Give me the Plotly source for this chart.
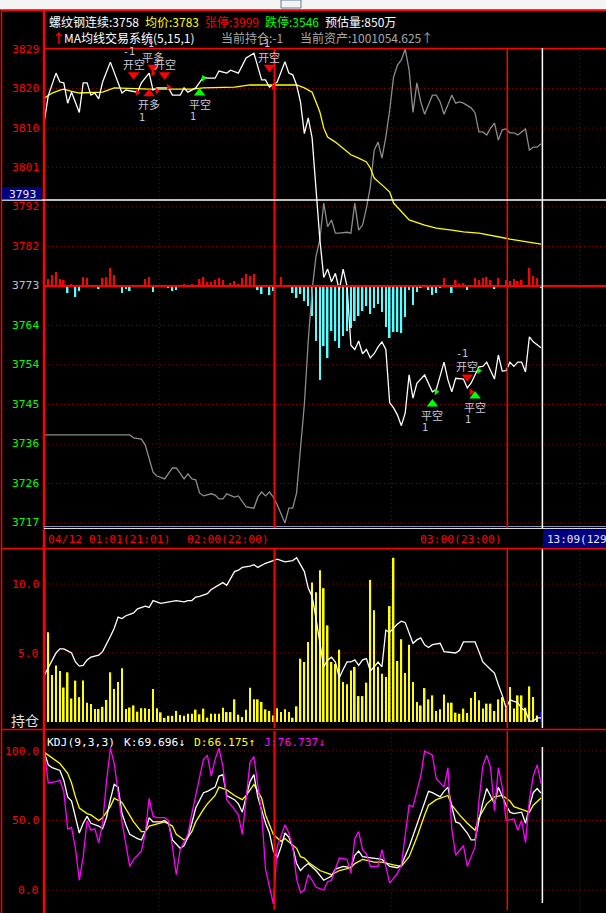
import plotly.graph_objects as go

W, H = 606, 913

# ---------------- data ----------------
prev_close = 3773
price_labels = ['3829', '3820', '3810', '3801', '3792', '3782', '3773',
                '3764', '3754', '3745', '3736', '3726', '3717']
price_step = 56 / 6
time_labels = ['04/12 01:01(21:01)', '02:00(22:00)', '03:00(23:00)']
time_label_idx = [0, 59, 119]
cursor_idx = 128.35
cursor_price = 3793.3
grid_idx = [29.6, 89.4, 137.9]

price_pts = [(0, 3812), (1, 3818), (3, 3823.3), (4, 3821.2), (5, 3821), (6, 3816.2), (7, 3818.8),
             (9, 3814), (10, 3821), (11, 3821), (12, 3818.1), (13, 3818.6), (14, 3817.2), (15, 3821.2),
             (17, 3825.9), (20, 3818.6), (21, 3819.3), (24, 3818.8), (25, 3821), (27, 3823.3), (28, 3819.3),
             (29, 3819.8), (32, 3819.8), (33, 3818.1), (35, 3818.1), (36, 3819.8), (37, 3818.8), (39, 3819.8),
             (41, 3822.4), (42, 3822.1), (44, 3822.1), (45, 3823.8), (47, 3823.3), (48, 3824), (50, 3823.3),
             (52, 3826.9), (54, 3828), (55, 3824.7), (56, 3821.7), (57, 3821.7), (58, 3820), (60, 3821.2),
             (62, 3826), (63, 3823.3), (64, 3822.9), (65, 3820.5), (66, 3816.5), (67, 3809), (68, 3812.7),
             (69, 3808), (70, 3796.4), (71, 3784), (72, 3775), (73, 3777), (74, 3774), (75, 3776), (76, 3772),
             (77, 3777), (78, 3773), (79, 3759), (80, 3758), (81, 3760), (82, 3757), (83, 3758), (84, 3756),
             (85, 3757), (86, 3758.6), (87, 3759.8), (88, 3758), (89, 3745.4), (90, 3744.2), (91, 3742.5),
             (92, 3740), (93, 3743), (94, 3752), (95, 3746.5), (96, 3750), (98, 3752), (100, 3748),
             (101, 3748.5), (103, 3755), (104, 3750.8), (105, 3748), (106, 3751.2), (108, 3751), (109, 3748.9),
             (110, 3750.1), (112, 3753.9), (113, 3754), (114, 3755), (116, 3751), (117, 3756.7), (118, 3752.9),
             (119, 3753), (120, 3755), (121, 3754), (122, 3755), (123, 3755), (124, 3752.7), (125, 3761),
             (126, 3759.8), (127, 3759.1), (128, 3758.4)]

overlay_pts = [(0, 3737.8), (22, 3737.8), (23, 3737.1), (25, 3736.8), (26, 3735.4), (27, 3731.9), (28, 3729),
               (29, 3728.1), (31, 3727.4), (33, 3730), (34, 3730), (36, 3727.4), (37, 3728.6), (38, 3727.4),
               (39, 3727.2), (40, 3724.1), (41, 3723.4), (43, 3723.9), (44, 3723.6), (45, 3722.7), (46, 3722.7),
               (47, 3723.9), (49, 3723.1), (50, 3723.4), (52, 3720.8), (54, 3720.5), (55, 3723.1), (56, 3724.3),
               (57, 3723.4), (58, 3724.3), (59, 3723.1), (60, 3721.3), (62, 3717), (63, 3720.5), (64, 3720.5),
               (65, 3724.1), (66, 3734.7), (67, 3745), (68, 3760), (69, 3772), (70, 3780), (71, 3784),
               (72, 3792.6), (73, 3787), (74, 3788.6), (75, 3785.5), (76, 3785.5), (78, 3785.7), (79, 3785.5),
               (80, 3792.6), (81, 3786.2), (82, 3787.4), (83, 3791.4), (84, 3796.4), (85, 3805.1), (86, 3807),
               (87, 3803.2), (88, 3808.2), (89, 3814.6), (90, 3822.4), (91, 3825.2), (92, 3826.4), (93, 3829),
               (94, 3824), (95, 3814), (96, 3821), (97, 3816.5), (98, 3813.6), (100, 3818.1), (101, 3818.1),
               (102, 3816.5), (103, 3813.6), (105, 3818.1), (106, 3816.2), (107, 3816.5), (108, 3816.2),
               (110, 3815.1), (111, 3813.9), (112, 3809.4), (113, 3809.4), (114, 3808.7), (115, 3810.3),
               (116, 3811.5), (117, 3807.5), (118, 3809.9), (119, 3810.1), (120, 3809.2), (121, 3809.2),
               (122, 3808.7), (123, 3809.4), (124, 3810.1), (125, 3805.1), (126, 3805.8), (127, 3805.8),
               (128, 3806.6)]

avg_pts = [(0, 3817.4), (2, 3818.6), (4, 3819.3), (5, 3819.5), (7, 3819), (9, 3818.6), (15, 3818.8),
           (18, 3819.8), (27, 3819.5), (38, 3819.5), (41, 3819.8), (49, 3820), (53, 3820.5), (61, 3820.5),
           (65, 3820.5), (67, 3819.8), (69, 3818.8), (70, 3816.5), (71, 3814.1), (72, 3810.3), (73, 3808.2),
           (75, 3807), (77, 3805.6), (79, 3804), (81, 3803.2), (83, 3802.3), (84, 3800.9), (85, 3798.5),
           (87, 3796.9), (89, 3795.2), (90, 3792.6), (92, 3790.5), (94, 3788.6), (98, 3787.4), (101, 3786.7),
           (105, 3786.2), (108, 3785.8), (112, 3785.5), (117, 3784.6), (120, 3784.1), (128, 3782.9)]

flow_diff = [0, 7, 11, 14, 7, 6, -7, 2, -11, -5,
             9, 8, -1, 1, -3, 8, 9, 18, 11, 1,
             -7, -3, -5, -1, -1, 1, 7, 9, -6, 0,
             0, 0, -2, -5, -4, 0, 2, 0, 2, 1,
             7, 9, 4, 4, 6, 8, 6, 0, 3, 5,
             2, 8, 12, 10, 12, -4, -8, 1, -9, -5,
             0, 9, 0, 0, -7, -12, -8, -15, -20, -30,
             -55, -94, -60, -72, -45, -55, -62, -50, -45, -42,
             -35, -30, -25, -20, -28, -22, -18, -26, -41, -52,
             -46, -46, -47, -31, -4, -19, -6, -2, 0, -4,
             -9, -7, -2, 8, 0, -7, 6, 2, 3, -4,
             0, 8, 6, 8, 9, 6, -3, 8, 0, 6,
             5, 7, 5, 6, -1, 18, 10, 8, -2]

volume = [10.5, 6.5, 3.4, 4.1, 3.7, 2.5, 3.6, 1.7, 3.0, 1.8,
          3.0, 1.4, 1.3, 0.94, 0.94, 1.1, 1.6, 3.6, 2.4, 2.9,
          3.9, 0.94, 1.05, 1.2, 0.75, 1.0, 1.0, 0.94, 2.4, 1.0,
          0.7, 0.3, 0.45, 0.45, 0.8, 0.5, 0.45, 0.6, 0.6, 0.9,
          0.56, 0.97, 0.31, 0.6, 0.6, 0.6, 1.04, 0.72, 0.72, 1.64,
          0.53, 0.36, 0.89, 2.49, 1.64, 1.64, 1.45, 0.92, 0.8, 0.48,
          0.99, 0.72, 0.92, 0.72, 0.31, 1.14, 4.59, 4.35, 5.8, 10.1,
          9.4, 11.0, 9.7, 7.0, 4.35, 4.2, 5.24, 2.9, 2.73, 3.74,
          3.99, 1.88, 1.88, 2.85, 10.3, 8.1, 4.0, 3.5, 3.26, 8.4,
          11.9, 4.42, 6.0, 3.55, 5.6, 2.9, 1.45, 1.2, 2.46, 1.64,
          1.93, 0.8, 0.92, 2.0, 1.4, 1.4, 0.68, 0.6, 0.97, 0.65,
          1.74, 2.17, 1.57, 0.97, 1.33, 1.33, 0.8, 1.64, 1.8, 0.97,
          2.54, 0.97, 1.93, 1.93, 1.04, 2.58, 1.81, 0.48, 0.72]

oi_pts = [(0, 3.4), (1, 3.9), (2, 4.5), (3, 5.0), (4, 5.3), (5, 5.3), (6, 5.15), (7, 5.0), (8, 4.35),
          (9, 4.05), (10, 4.1), (11, 4.5), (12, 4.7), (14, 4.85), (15, 5.1), (16, 5.6), (17, 6.2), (18, 6.8),
          (19, 7.6), (20, 7.5), (21, 7.7), (22, 7.8), (23, 7.9), (24, 8.2), (25, 8.3), (26, 8.4), (27, 8.3),
          (28, 8.8), (30, 8.6), (32, 8.7), (33, 8.7), (34, 8.8), (36, 8.7), (37, 8.8), (38, 8.8), (39, 9.05),
          (40, 9.1), (42, 9.3), (43, 9.6), (46, 10.1), (47, 9.9), (49, 10.9), (50, 11.0), (51, 11.2),
          (53, 11.3), (54, 11.4), (55, 11.2), (57, 11.5), (59, 11.7), (60, 11.8), (62, 11.6), (64, 11.7),
          (65, 11.9), (67, 10.9), (68, 9.7), (69, 9.1), (70, 7.5), (71, 5.6), (72, 4.0), (73, 4.5), (74, 4.7),
          (75, 4.35), (76, 3.2), (77, 3.8), (78, 4.35), (79, 4.35), (80, 4.5), (81, 4.1), (82, 4.5), (83, 4.6),
          (84, 3.7), (85, 4.0), (86, 4.35), (87, 4.0), (88, 6.65), (89, 6.5), (91, 7.1), (92, 7.3), (93, 7.2),
          (95, 5.7), (96, 5.95), (97, 6.1), (98, 5.6), (99, 5.4), (100, 5.6), (102, 5.7), (103, 5.1),
          (106, 5.0), (107, 5.2), (108, 5.8), (110, 5.8), (111, 5.8), (112, 5.1), (113, 4.35), (115, 3.8),
          (116, 3.55), (117, 2.7), (118, 1.95), (119, 1.0), (120, 1.6), (122, 1.4), (123, 1.0), (124, 0.8),
          (125, 0.07), (126, 0.07), (127, 0.3), (128, 0.3)]

k_pts = [(0, 99), (1, 90), (2, 88), (4, 86), (5, 79), (6, 67), (7, 64), (8, 53), (9, 41), (10, 48), (11, 53),
         (12, 48), (14, 46), (15, 44), (16, 52), (17, 65), (18, 76), (19, 74), (20, 55), (21, 47), (22, 40),
         (24, 37), (25, 36), (26, 42), (27, 52), (28, 49), (30, 49), (31, 50), (32, 48), (33, 36), (35, 30),
         (36, 32), (37, 38), (38, 48), (39, 59), (41, 70), (42, 71), (44, 74), (45, 82), (46, 83), (47, 68),
         (49, 65), (50, 62), (51, 56), (52, 68), (53, 78), (54, 83), (55, 67), (57, 48), (58, 41), (59, 28),
         (60, 23), (61, 31), (62, 41), (63, 38), (64, 31), (65, 19), (66, 14), (67, 17), (68, 19), (70, 14),
         (72, 7), (74, 10), (75, 15), (77, 17), (79, 16), (80, 25), (81, 28), (82, 24), (84, 23), (86, 22),
         (87, 22), (89, 17), (91, 16), (92, 18), (94, 31), (96, 47), (98, 62), (99, 71), (100, 70), (102, 67),
         (103, 71), (104, 74), (105, 60), (106, 49), (107, 48), (109, 41), (110, 36), (111, 36), (112, 50),
         (113, 63), (114, 73), (115, 68), (116, 62), (117, 74), (118, 67), (119, 61), (120, 56), (121, 55),
         (123, 56), (124, 48), (125, 60), (126, 70), (127, 73), (128, 69.7)]

d_pts = [(0, 99), (1, 97), (4, 91), (6, 84), (7, 77), (8, 67), (9, 59), (11, 55), (12, 54), (14, 50), (15, 52),
         (17, 60), (18, 66), (20, 63), (21, 58), (23, 49), (25, 42), (26, 42), (27, 46), (30, 48), (31, 49),
         (33, 46), (34, 40), (36, 36), (37, 38), (38, 42), (39, 49), (41, 58), (42, 62), (44, 68), (45, 74),
         (47, 72), (49, 68), (51, 65), (52, 68), (54, 76), (56, 66), (57, 54), (59, 40), (61, 35), (62, 37),
         (65, 30), (66, 24), (67, 23), (68, 20), (71, 14), (74, 11), (76, 14), (79, 16), (80, 19), (82, 22),
         (85, 20), (87, 20), (90, 18), (92, 17), (94, 24), (96, 38), (98, 54), (99, 61), (101, 65), (104, 68),
         (105, 61), (107, 54), (109, 48), (111, 43), (112, 52), (114, 62), (116, 67), (118, 68), (120, 64),
         (121, 60), (123, 58), (125, 56), (126, 61), (128, 66.2)]

j_pts = [(0, 99), (1, 77), (3, 78), (4, 79), (5, 71), (6, 44), (7, 45), (8, 30), (9, 7), (10, 24), (11, 50),
         (12, 43), (13, 44), (14, 34), (15, 48), (16, 78), (17, 102), (18, 91), (20, 49), (21, 34), (22, 17),
         (23, 22), (25, 28), (26, 41), (27, 66), (28, 53), (29, 52), (31, 52), (32, 50), (33, 31), (34, 11),
         (35, 29), (37, 40), (38, 55), (39, 68), (41, 94), (42, 97), (43, 82), (44, 94), (45, 102), (46, 89),
         (47, 65), (49, 58), (50, 54), (51, 40), (52, 65), (53, 92), (54, 96), (56, 55), (57, 15), (58, 2),
         (59, -10), (60, 31), (62, 47), (63, 41), (64, 31), (65, 8), (66, -2), (67, 0), (68, 11), (69, 7),
         (70, 2), (72, 0), (73, 6), (74, 7), (76, 23), (78, 22), (79, 12), (80, 37), (81, 42), (82, 29),
         (83, 26), (84, 17), (86, 17), (87, 29), (89, 5), (91, 12), (92, 18), (94, 61), (95, 60), (97, 82),
         (98, 100), (100, 97), (101, 80), (103, 74), (104, 88), (105, 44), (106, 25), (108, 32), (109, 17),
         (111, 31), (112, 64), (113, 89), (114, 97), (115, 88), (116, 57), (117, 88), (118, 74), (119, 50),
         (121, 51), (122, 43), (123, 50), (124, 34), (125, 65), (126, 82), (127, 90), (128, 76.7)]

# trade signals: bar, triangle price, direction, colour, label, qty
sig_idx = [23, 28, 31, 27, 40, 58, 100, 109, 111]
sig_price = [3822.9, 3824.7, 3822.9, 3818.4, 3818.6, 3824.7, 3745.1, 3751.5, 3747.0]
sig_dir = ['down', 'down', 'down', 'up', 'up', 'down', 'up', 'down', 'up']
sig_col = ['#ff0000', '#ff0000', '#ff0000', '#ff0000', '#00ff00', '#ff0000', '#00ff00', '#ff0000', '#00ff00']
sig_text = ['开空', '平多', '开空', '开多', '平空', '开空', '平空', '开空', '平空']
sig_qty = ['-1', '-1', '', '1', '1', '-1', '1', '-1', '1']
fill_idx = [24, 28, 29, 32, 41, 59, 101, 110, 112]
fill_price = [3818.8, 3823.3, 3819.1, 3820, 3822.1, 3820, 3748, 3748, 3753]
fill_col = ['#ff0000', '#ff0000', '#ff0000', '#ff0000', '#00ff00', '#ff0000', '#00ff00', '#ff0000', '#00ff00']

# ---------------- figure ----------------
NUMF = 'DejaVu Sans Mono'
CJKF = 'Noto Sans CJK SC'
NS = 11.3
bars = list(range(len(volume)))


def unzip(pts):
    return [p[0] for p in pts], [p[1] for p in pts]


def px_x(px):
    return px / W


def px_y(py):
    return 1 - py / H


fig = go.Figure()
LW = 1.3
# main panel: flow bars on y, prices on y2
fig.add_trace(go.Bar(x=bars, y=[v if v > 0 else 0 for v in flow_diff], marker=dict(color='#ff0000', line=dict(width=0)),
                     width=0.42, xaxis='x', yaxis='y'))
fig.add_trace(go.Bar(x=bars, y=[v if v < 0 else 0 for v in flow_diff], marker=dict(color='#55ffff', line=dict(width=0)),
                     width=0.42, xaxis='x', yaxis='y'))
ox, oy = unzip(overlay_pts)
fig.add_trace(go.Scatter(x=ox, y=oy, mode='lines', line=dict(color='#8c8c8c', width=LW), xaxis='x', yaxis='y2'))
ax_, ay_ = unzip(avg_pts)
fig.add_trace(go.Scatter(x=ax_, y=ay_, mode='lines', line=dict(color='#ffff00', width=LW), xaxis='x', yaxis='y2'))
px_, py_ = unzip(price_pts)
fig.add_trace(go.Scatter(x=px_, y=py_, mode='lines', line=dict(color='#ffffff', width=LW), xaxis='x', yaxis='y2'))
# fills
fig.add_trace(go.Scatter(x=fill_idx, y=fill_price, mode='markers',
                         marker=dict(symbol='triangle-right', size=6, color=fill_col, line=dict(width=0)),
                         xaxis='x', yaxis='y2'))
# signals
sig_sym = ['triangle-down' if d == 'down' else 'triangle-up' for d in sig_dir]
fig.add_trace(go.Scatter(x=sig_idx, y=sig_price, mode='markers',
                         marker=dict(symbol=sig_sym, size=10, color=sig_col, line=dict(width=0)),
                         xaxis='x', yaxis='y2'))

# volume panel
vol_cols = ['#ffff00'] * (len(volume) - 1) + ['#0000ff']
fig.add_trace(go.Bar(x=bars, y=volume, marker=dict(color=vol_cols, line=dict(width=0)), width=0.42,
                     xaxis='x2', yaxis='y3'))
oix, oiy = unzip(oi_pts)
fig.add_trace(go.Scatter(x=oix, y=oiy, mode='lines', line=dict(color='#ffffff', width=LW), xaxis='x2', yaxis='y3'))

# KDJ panel
for pts, col in [(d_pts, '#ffff00'), (k_pts, '#ffffff'), (j_pts, '#ff00ff')]:
    xx, yy = unzip(pts)
    fig.add_trace(go.Scatter(x=xx, y=yy, mode='lines', line=dict(color=col, width=LW), xaxis='x3', yaxis='y4'))

# panel geometry (pixels)
MAIN = (48, 528)
VOL = (549, 728)
KDJ = (731, 910)
XR = [-0.1, (W - 44) / 3.88 - 0.1]
price_range = [prev_close - 242 / 4.232, prev_close + 238 / 4.232]
vol_range = [-6 / 13.8, (722 - VOL[0]) / 13.8]
kdj_range = [(890 - KDJ[1]) / 1.39, (890 - KDJ[0]) / 1.39]


def dom(p):
    return [px_y(p[1]), px_y(p[0])]


hid = dict(showgrid=False, zeroline=False, showticklabels=False, showline=False, ticks='')
fig.update_layout(
    width=W, height=H, margin=dict(l=0, r=0, t=0, b=0),
    paper_bgcolor='#000000', plot_bgcolor='rgba(0,0,0,0)',
    showlegend=False, barmode='overlay', hovermode=False,
    xaxis=dict(domain=[44 / W, 1], range=XR, anchor='y', **hid),
    yaxis=dict(domain=dom(MAIN), range=[-242, 238], anchor='x', **hid),
    yaxis2=dict(range=price_range, overlaying='y', anchor='x', **hid),
    xaxis2=dict(domain=[44 / W, 1], range=XR, anchor='y3', **hid),
    yaxis3=dict(domain=dom(VOL), range=vol_range, anchor='x2', **hid),
    xaxis3=dict(domain=[44 / W, 1], range=XR, anchor='y4', **hid),
    yaxis4=dict(domain=dom(KDJ), range=kdj_range, anchor='x3', **hid),
)

shapes = []
GRID = dict(color='#8a0000', width=1, dash='1px,3px')
price_levels = [prev_close + (6 - k) * price_step for k in range(13)]
for lv in price_levels:
    shapes.append(dict(type='line', xref='paper', yref='y2', x0=px_x(44), x1=1, y0=lv, y1=lv, line=GRID, layer='below'))
for lv in [5, 10]:
    shapes.append(dict(type='line', xref='paper', yref='y3', x0=px_x(44), x1=1, y0=lv, y1=lv, line=GRID, layer='below'))
for lv in [0, 50, 100]:
    shapes.append(dict(type='line', xref='paper', yref='y4', x0=px_x(44), x1=1, y0=lv, y1=lv, line=GRID, layer='below'))
for xr_, p in [('x', MAIN), ('x2', VOL), ('x3', KDJ)]:
    for g in grid_idx:
        shapes.append(dict(type='line', xref=xr_, yref='paper', x0=g, x1=g, y0=px_y(p[1]), y1=px_y(p[0]),
                           line=GRID, layer='below'))


def hline(py, x0, x1, color, width, layer='above'):
    shapes.append(dict(type='line', xref='paper', yref='paper', x0=px_x(x0), x1=px_x(x1), y0=px_y(py), y1=px_y(py),
                       line=dict(color=color, width=width), layer=layer))


def vline(px, y0, y1, color, width, layer='above'):
    shapes.append(dict(type='line', xref='paper', yref='paper', x0=px_x(px), x1=px_x(px), y0=px_y(y0), y1=px_y(y1),
                       line=dict(color=color, width=width), layer=layer))


def rect(x0, y0, x1, y1, fill, line=None):
    shapes.append(dict(type='rect', xref='paper', yref='paper', x0=px_x(x0), x1=px_x(x1), y0=px_y(y1), y1=px_y(y0),
                       fillcolor=fill, line=dict(width=0) if line is None else line, layer='above'))


# top window strip
rect(0, 0, 606, 9.5, '#f4f4f4')
rect(281, 0, 301, 8, 'rgba(0,0,0,0)', dict(color='#5f7fa0', width=1))
# frame
hline(10.5, 1, 606, '#ff0000', 1.5)
vline(1.5, 10, 913, '#ff0000', 1.5)
vline(44, 10, 913, '#ff0000', 2.5)
hline(48.5, 44, 606, '#ff0000', 1.5)
shapes.append(dict(type='line', xref='paper', yref='y2', x0=px_x(44), x1=1, y0=prev_close, y1=prev_close,
                   line=dict(color='#ff0000', width=2), layer='above'))
hline(526.5, 44, 606, '#9090b8', 1)
hline(528.5, 44, 606, '#d8d8d8', 1)
hline(548.5, 1, 606, '#ff0000', 1.5)
hline(729.5, 1, 606, '#ff0000', 1.5)
# time markers (02:00 / 03:00) and cursor
for xr_, p in [('x', MAIN), ('x2', VOL), ('x3', KDJ)]:
    for ti, wd in [(time_label_idx[1] + 0.3, 2), (time_label_idx[2] + 0.3, 1.5)]:
        shapes.append(dict(type='line', xref=xr_, yref='paper', x0=ti, x1=ti, y0=px_y(p[1]), y1=px_y(p[0]),
                           line=dict(color='#ff0000', width=wd), layer='above'))
    shapes.append(dict(type='line', xref=xr_, yref='paper', x0=cursor_idx, x1=cursor_idx,
                       y0=px_y(p[1] - (7 if p is KDJ else 0)), y1=px_y(p[0] + (16 if p is KDJ else 0)),
                       line=dict(color='#ffffff', width=1.5), layer='above'))
shapes.append(dict(type='line', xref='paper', yref='y2', x0=px_x(2), x1=1, y0=cursor_price, y1=cursor_price,
                   line=dict(color='#ffffff', width=1.5), layer='above'))
rect(2, 187, 42, 199.5, '#000080')
rect(543, 529.5, 606, 547.5, '#000080')
fig.update_layout(shapes=shapes)

ann = []


def text(t, x, y, color, size=12, font=CJKF, xanchor='left', yanchor='middle', xref='paper', yref='paper', **kw):
    ann.append(dict(text=t, x=x, y=y, xref=xref, yref=yref, xanchor=xanchor, yanchor=yanchor, showarrow=False,
                    font=dict(family=font, size=size, color=color), **kw))


# header
text('螺纹钢连续:3758', px_x(47), px_y(21), '#ffffff')
text('均价:3783', px_x(143), px_y(21), '#ffff00')
text('张停:3999', px_x(203), px_y(21), '#ff0000')
text('跌停:3546', px_x(263), px_y(21), '#00ff00')
text('预估量:850万', px_x(323), px_y(21), '#ffffff')
text('<b>↑</b>', px_x(50), px_y(38), '#ff0000', size=13)
text('MA均线交易系统(5,15,1)', px_x(62), px_y(38), '#ffffff')
text('当前持仓:-1', px_x(219), px_y(38), '#a8a8a8')
text('当前资产:1001054.625↑', px_x(298), px_y(38), '#a8a8a8')

# main y labels
for k, (lv, lab) in enumerate(zip(price_levels, price_labels)):
    col = '#ff0000' if lv > prev_close + 0.1 else ('#c0c0c0' if abs(lv - prev_close) < 0.1 else '#00ff00')
    text(lab, px_x(41), lv, col, size=NS, font=NUMF, xanchor='right', yref='y2')
text('3793', px_x(22), cursor_price, '#e8e8ff', size=NS, font=NUMF, xanchor='center', yref='y2', yshift=6)

# time row
for lab, ti in zip(time_labels, time_label_idx):
    text(lab, ti + 0.3, px_y(539), '#ff0000', size=NS, font=NUMF, xanchor='left' if ti == 0 else 'right',
         xref='x', xshift=(0 if ti == 0 else -3))
text('13:09(129', px_x(545), px_y(539), '#e8e8ff', size=11, font=NUMF)

# volume labels
text('10.0', px_x(41), 10, '#ff0000', size=NS, font=NUMF, xanchor='right', yref='y3')
text('5.0', px_x(41), 5, '#ff0000', size=NS, font=NUMF, xanchor='right', yref='y3')
text('持仓', px_x(41), px_y(720), '#e0e0e0', size=14, xanchor='right')

# KDJ labels
text('KDJ(9,3,3)', px_x(45), px_y(742), '#ffffff', size=NS, font=NUMF)
text('K:69.696↓', px_x(122), px_y(742), '#ffffff', size=NS, font=NUMF)
text('D:66.175↑', px_x(192), px_y(742), '#ffff00', size=NS, font=NUMF)
text('J:76.737↓', px_x(262), px_y(742), '#ff00ff', size=NS, font=NUMF)
for lv, lab in [(100, '100.0'), (50, '50.0'), (0, '0.0')]:
    text(lab, px_x(41), lv, '#ff0000', size=NS, font=NUMF, xanchor='right', yref='y4')

# signal texts
for i, p, d, lab, q in zip(sig_idx, sig_price, sig_dir, sig_text, sig_qty):
    s = 1 if d == 'down' else -1
    text(lab, i, p, '#c8c8d8', size=11, xanchor='center', xref='x', yref='y2', yshift=s * 10.5)
    if q:
        text(q, i, p, '#c8c8d8', size=10, font=NUMF, xanchor='center', xref='x', yref='y2',
             yshift=s * 23.5, xshift=-5 if d == 'down' else -7)

fig.update_layout(annotations=ann)
fig.write_html('out.html', config={'displayModeBar': False},
               post_script="document.body.style.margin='0';document.body.style.overflow='hidden';")
